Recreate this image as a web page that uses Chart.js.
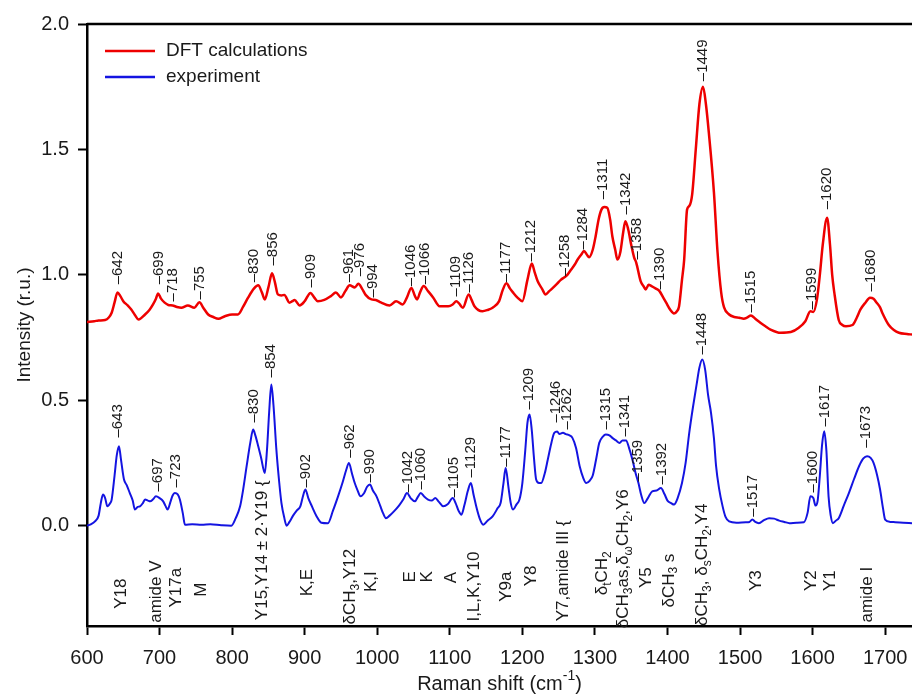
<!DOCTYPE html>
<html>
<head>
<meta charset="utf-8">
<script src="https://cdn.jsdelivr.net/npm/chart.js@4/dist/chart.umd.min.js"></script>
<style>
  html, body { margin: 0; padding: 0; background: #fff; }
  #wrap { width: 912px; height: 695px; }
</style>
</head>
<body>
<div id="wrap"><canvas id="chart" width="912" height="695"></canvas></div>
<script>
// DFT calculated spectrum (red)
const dftX = [600, 610, 616, 625, 630, 634, 638, 642, 646, 650, 656, 661, 666, 671, 680, 686, 691, 695, 698, 702,
  707, 712, 718, 724, 730, 739, 748, 755, 760, 767, 774, 781, 790, 800, 808, 815, 822, 830, 836, 841,
  845, 850, 855, 859, 863, 868, 872, 879, 883, 886, 893, 900, 908, 913, 918, 927, 936, 943, 950, 956,
  962, 969, 974, 979, 984, 992, 998, 1005, 1017, 1026, 1035, 1041, 1047, 1052, 1055, 1059, 1064, 1070, 1077, 1086,
  1098, 1104, 1109, 1113, 1118, 1126, 1130, 1134, 1145, 1152, 1159, 1168, 1173, 1178, 1183, 1187, 1193, 1200, 1207, 1213,
  1217, 1221, 1227, 1232, 1237, 1242, 1248, 1253, 1258, 1262, 1267, 1272, 1276, 1281, 1285, 1289, 1292, 1297, 1301, 1305,
  1309, 1313, 1317, 1321, 1324, 1328, 1331, 1335, 1339, 1342, 1346, 1350, 1354, 1357, 1363, 1367, 1370, 1374, 1378, 1384,
  1389, 1394, 1398, 1404, 1409, 1413, 1416, 1420, 1423, 1427, 1430, 1434, 1439, 1444, 1449, 1453, 1457, 1464, 1469, 1474,
  1478, 1485, 1492, 1499, 1505, 1510, 1515, 1521, 1528, 1535, 1542, 1556, 1570, 1581, 1590, 1597, 1601, 1606, 1610, 1614,
  1620, 1624, 1627, 1630, 1636, 1641, 1646, 1655, 1661, 1666, 1673, 1679, 1684, 1688, 1693, 1696, 1705, 1712, 1719, 1730, 1737];
const dftY = [0.812, 0.815, 0.818, 0.82, 0.83, 0.849, 0.89, 0.93, 0.915, 0.895, 0.878, 0.862, 0.84, 0.822, 0.842, 0.86, 0.882, 0.905, 0.926, 0.905,
  0.889, 0.88, 0.878, 0.872, 0.869, 0.878, 0.869, 0.891, 0.87, 0.842, 0.832, 0.825, 0.835, 0.842, 0.842, 0.872, 0.909, 0.945, 0.958, 0.93,
  0.902, 0.95, 1.006, 0.97, 0.922, 0.918, 0.92, 0.889, 0.895, 0.9, 0.878, 0.895, 0.928, 0.91, 0.895, 0.9, 0.915, 0.93, 0.91, 0.935,
  0.958, 0.95, 0.964, 0.945, 0.92, 0.902, 0.9, 0.89, 0.878, 0.895, 0.882, 0.91, 0.948, 0.915, 0.902, 0.93, 0.955, 0.935, 0.91, 0.875,
  0.875, 0.882, 0.895, 0.885, 0.869, 0.922, 0.9, 0.875, 0.855, 0.86, 0.869, 0.895, 0.94, 0.966, 0.945, 0.93, 0.91, 0.895, 0.98, 1.045,
  1.01, 0.975, 0.945, 0.922, 0.935, 0.948, 0.965, 0.98, 0.99, 1.0, 1.02, 1.04, 1.06, 1.08, 1.095, 1.08, 1.07, 1.1, 1.154, 1.22,
  1.26, 1.27, 1.267, 1.22, 1.154, 1.1, 1.061, 1.09, 1.17, 1.214, 1.18, 1.12, 1.07, 1.048, 0.975, 0.955, 0.942, 0.96, 0.955, 0.945,
  0.935, 0.91, 0.89, 0.86, 0.846, 0.855, 0.875, 0.98, 1.06, 1.26, 1.274, 1.32, 1.5, 1.68, 1.75, 1.68, 1.567, 1.33, 1.09, 0.93,
  0.87, 0.842, 0.832, 0.829, 0.825, 0.83, 0.838, 0.825, 0.809, 0.795, 0.782, 0.769, 0.772, 0.789, 0.815, 0.855, 0.852, 0.902, 1.0, 1.12,
  1.228, 1.12, 1.0, 0.928, 0.82, 0.8, 0.795, 0.8, 0.83, 0.862, 0.89, 0.909, 0.905, 0.89, 0.87, 0.849, 0.8, 0.78, 0.769, 0.764, 0.762];

// measured spectrum (blue)
const expX = [600, 605, 611, 616, 619, 622, 625, 628, 632, 634, 638, 641, 644, 647, 651, 655, 659, 663, 666, 670,
  673, 677, 680, 684, 687, 691, 695, 700, 705, 708, 711, 715, 718, 721, 725, 728, 732, 735, 745, 758,
  770, 785, 799, 805, 811, 815, 820, 825, 829, 832, 836, 840, 845, 848, 851, 854, 857, 861, 865, 868,
  872, 875, 879, 884, 889, 894, 897, 901, 905, 910, 916, 923, 932, 939, 946, 952, 957, 961, 965, 969,
  973, 977, 982, 986, 990, 994, 999, 1004, 1008, 1012, 1017, 1023, 1030, 1036, 1041, 1046, 1052, 1056, 1060, 1065,
  1070, 1075, 1080, 1085, 1091, 1097, 1104, 1108, 1112, 1116, 1120, 1125, 1129, 1133, 1137, 1141, 1146, 1152, 1159, 1166,
  1170, 1174, 1177, 1181, 1184, 1187, 1192, 1196, 1200, 1204, 1207, 1210, 1213, 1216, 1219, 1223, 1226, 1231, 1235, 1240,
  1244, 1248, 1251, 1256, 1260, 1265, 1269, 1274, 1279, 1284, 1288, 1293, 1297, 1302, 1306, 1311, 1315, 1320, 1324, 1329,
  1334, 1338, 1343, 1347, 1352, 1356, 1360, 1364, 1368, 1373, 1379, 1385, 1391, 1396, 1400, 1405, 1409, 1414, 1420, 1425,
  1430, 1435, 1440, 1444, 1448, 1452, 1456, 1460, 1464, 1467, 1471, 1476, 1480, 1485, 1495, 1508, 1513, 1517, 1521, 1526,
  1533, 1540, 1547, 1554, 1561, 1568, 1578, 1588, 1593, 1597, 1601, 1604, 1607, 1610, 1613, 1616, 1619, 1622, 1625, 1628,
  1632, 1636, 1643, 1650, 1657, 1664, 1670, 1675, 1680, 1684, 1689, 1693, 1697, 1700, 1707, 1714, 1725, 1737];
const expY = [0.0, 0.005, 0.017, 0.04, 0.09, 0.124, 0.11, 0.077, 0.09, 0.104, 0.2, 0.28, 0.317, 0.26, 0.184, 0.16, 0.13, 0.1, 0.064, 0.075,
  0.077, 0.09, 0.104, 0.1, 0.097, 0.105, 0.117, 0.11, 0.097, 0.08, 0.064, 0.095, 0.12, 0.13, 0.125, 0.104, 0.05, 0.004, 0.006, 0.004,
  0.006, 0.002, 0.0, 0.03, 0.077, 0.14, 0.237, 0.33, 0.383, 0.36, 0.317, 0.27, 0.21, 0.3, 0.45, 0.563, 0.48, 0.303, 0.17, 0.09,
  0.03, 0.0, 0.015, 0.04, 0.06, 0.077, 0.11, 0.144, 0.11, 0.077, 0.04, 0.012, 0.01, 0.06, 0.117, 0.17, 0.22, 0.25, 0.21, 0.17,
  0.14, 0.117, 0.13, 0.155, 0.164, 0.14, 0.117, 0.08, 0.05, 0.03, 0.04, 0.057, 0.08, 0.105, 0.13, 0.11, 0.097, 0.115, 0.13, 0.115,
  0.104, 0.1, 0.11, 0.095, 0.077, 0.085, 0.11, 0.09, 0.06, 0.044, 0.08, 0.14, 0.17, 0.12, 0.07, 0.03, 0.004, 0.02, 0.037, 0.07,
  0.09, 0.17, 0.23, 0.15, 0.09, 0.064, 0.085, 0.104, 0.17, 0.3, 0.41, 0.443, 0.38, 0.27, 0.184, 0.17, 0.17, 0.21, 0.263, 0.33,
  0.37, 0.375, 0.365, 0.37, 0.365, 0.36, 0.35, 0.31, 0.237, 0.19, 0.17, 0.18, 0.2, 0.27, 0.33, 0.355, 0.363, 0.36, 0.35, 0.34,
  0.33, 0.34, 0.34, 0.31, 0.26, 0.21, 0.17, 0.12, 0.09, 0.11, 0.137, 0.14, 0.15, 0.125, 0.1, 0.09, 0.084, 0.11, 0.17, 0.25,
  0.37, 0.47, 0.56, 0.63, 0.662, 0.62, 0.52, 0.45, 0.35, 0.237, 0.15, 0.077, 0.035, 0.017, 0.012, 0.014, 0.015, 0.025, 0.015, 0.01,
  0.022, 0.03, 0.028, 0.02, 0.015, 0.01, 0.012, 0.014, 0.05, 0.117, 0.11, 0.08, 0.1, 0.2, 0.32, 0.376, 0.3, 0.117, 0.04, 0.01,
  0.02, 0.03, 0.08, 0.13, 0.185, 0.237, 0.268, 0.277, 0.27, 0.25, 0.2, 0.144, 0.07, 0.024, 0.015, 0.014, 0.012, 0.01];

// peak positions and the intensity where each label starts
const dftPeaks = [642, 699, 718, 755, 830, 856, 909, 961, 976, 994, 1046, 1066, 1109, 1126, 1177, 1212, 1258, 1284,
  1311, 1342, 1358, 1390, 1449, 1515, 1599, 1620, 1680];
const dftPeakLevels = [0.962, 0.962, 0.894, 0.902, 0.97, 1.037, 0.95, 0.97, 0.994, 0.91, 0.954, 0.962, 0.914, 0.93, 0.97, 1.053, 0.994, 1.101,
  1.301, 1.241, 1.061, 0.942, 1.772, 0.85, 0.862, 1.261, 0.934];
const expPeaks = [643, 697, 723, 830, 854, 902, 962, 990, 1042, 1060, 1105, 1129, 1177, 1209, 1246, 1262, 1315, 1341,
  1359, 1392, 1448, 1517, 1600, 1617, 1673];
const expPeakLevels = [0.351, 0.136, 0.152, 0.411, 0.591, 0.152, 0.271, 0.172, 0.132, 0.144, 0.112, 0.192, 0.235, 0.463, 0.411, 0.383, 0.383, 0.355,
  0.176, 0.164, 0.682, 0.036, 0.132, 0.395, 0.311];

// band assignments ("_x" = subscript), their position and label centre
const bandNames = ["Y18", "amide V", "Y17a", "M", "Y15,Y14 \u00b1 2\u00b7Y19 {", "K,E", "\u03b4CH_3,Y12", "K,I", "E", "K", "A",
  "I,L,K,Y10", "Y9a", "Y8", "Y7,amide III {", "\u03b4_tCH_2", "\u03b4CH_3as,\u03b4_\u03c9CH_2,Y6", "Y5", "\u03b4CH_3 s",
  "\u03b4CH_3, \u03b4_sCH_2,Y4", "Y3", "Y2", "Y1", "amide I"];
const bandX = [647, 696, 723, 758, 841, 904, 963, 992, 1046, 1069, 1102, 1134, 1178, 1212, 1257, 1310, 1339, 1371, 1402,
  1448, 1522, 1598, 1625, 1675];
const bandLevels = [-0.271, -0.263, -0.247, -0.255, -0.098, -0.227, -0.243, -0.223, -0.204, -0.204, -0.207, -0.243, -0.243, -0.2,
  -0.18, -0.19, -0.132, -0.207, -0.219, -0.156, -0.219, -0.219, -0.219, -0.275];

const xTicks = [600, 700, 800, 900, 1000, 1100, 1200, 1300, 1400, 1500, 1600, 1700];
const yTicks = [0, 0.5, 1.0, 1.5, 2.0];

const FONT = '"Liberation Sans", Arial, Helvetica, sans-serif';
const RED = "rgb(238,0,0)";
const BLUE = "rgb(20,20,225)";
const INK = "#1a1a1a";

// "_x" / "_{..}" subscript, "^x" / "^{..}" superscript
function parseRich(text) {
  const segs = [];
  let buf = "";
  let i = 0;
  while (i < text.length) {
    const c = text[i];
    if ((c === "_" || c === "^") && i + 1 < text.length) {
      if (buf) {
        segs.push({ t: buf, s: 0 });
        buf = "";
      }
      let inner;
      if (text[i + 1] === "{") {
        const end = text.indexOf("}", i + 2);
        inner = text.slice(i + 2, end);
        i = end + 1;
      } else {
        inner = text[i + 1];
        i += 2;
      }
      segs.push({ t: inner, s: c === "_" ? 1 : -1 });
      continue;
    }
    buf += c;
    i++;
  }
  if (buf) {
    segs.push({ t: buf, s: 0 });
  }
  return segs;
}

function drawRich(ctx, text, size, align) {
  const segs = parseRich(text);
  const small = Math.round(size * 0.68);
  let width = 0;
  for (const sg of segs) {
    ctx.font = `${sg.s ? small : size}px ${FONT}`;
    sg.w = ctx.measureText(sg.t).width;
    width += sg.w;
  }
  let x = align === "center" ? -width / 2 : 0;
  ctx.textAlign = "left";
  ctx.textBaseline = "middle";
  for (const sg of segs) {
    ctx.font = `${sg.s ? small : size}px ${FONT}`;
    const dy = sg.s === 1 ? size * 0.3 : sg.s === -1 ? -size * 0.4 : 0;
    ctx.fillText(sg.t, x, dy);
    x += sg.w;
  }
}

const annotations = {
  id: "annotations",
  afterDatasetsDraw(chart) {
    const { ctx, chartArea } = chart;
    const xs = chart.scales.x;
    const ys = chart.scales.y;
    ctx.save();

    // top frame line
    ctx.strokeStyle = "#000";
    ctx.lineWidth = 2.5;
    ctx.beginPath();
    ctx.moveTo(chartArea.left, chartArea.top);
    ctx.lineTo(chartArea.right, chartArea.top);
    ctx.stroke();

    // legend
    const legend = [["DFT calculations", RED], ["experiment", BLUE]];
    legend.forEach(([label, color], i) => {
      const ly = chartArea.top + 27 + i * 26;
      ctx.strokeStyle = color;
      ctx.lineWidth = 2.5;
      ctx.beginPath();
      ctx.moveTo(chartArea.left + 18, ly);
      ctx.lineTo(chartArea.left + 68, ly);
      ctx.stroke();
      ctx.fillStyle = INK;
      ctx.font = `19px ${FONT}`;
      ctx.textAlign = "left";
      ctx.textBaseline = "middle";
      ctx.fillText(label, chartArea.left + 79, ly);
    });

    ctx.fillStyle = INK;
    const peakLabels = (peaks, levels) => {
      peaks.forEach((v, i) => {
        ctx.save();
        ctx.translate(xs.getPixelForValue(v), ys.getPixelForValue(levels[i]));
        ctx.rotate(-Math.PI / 2);
        ctx.font = `15px ${FONT}`;
        ctx.textAlign = "left";
        ctx.textBaseline = "middle";
        ctx.fillText("\u2013" + v, 0, 0);
        ctx.restore();
      });
    };
    peakLabels(dftPeaks, dftPeakLevels);
    peakLabels(expPeaks, expPeakLevels);

    bandNames.forEach((name, i) => {
      ctx.save();
      ctx.translate(xs.getPixelForValue(bandX[i]), ys.getPixelForValue(bandLevels[i]));
      ctx.rotate(-Math.PI / 2);
      drawRich(ctx, name, 17, "center");
      ctx.restore();
    });

    // axis titles
    ctx.save();
    ctx.translate((chartArea.left + chartArea.right) / 2, chartArea.bottom + 58);
    drawRich(ctx, "Raman shift (cm^{-1})", 20, "center");
    ctx.restore();

    ctx.save();
    ctx.translate(25, (chartArea.top + chartArea.bottom) / 2);
    ctx.rotate(-Math.PI / 2);
    drawRich(ctx, "Intensity (r.u.)", 19, "center");
    ctx.restore();

    ctx.restore();
  },
};

const toPoints = (xs, ys) => xs.map((x, i) => ({ x, y: ys[i] }));

new Chart(document.getElementById("chart"), {
  type: "line",
  data: {
    datasets: [
      {
        label: "DFT calculations",
        data: toPoints(dftX, dftY),
        borderColor: RED,
        borderWidth: 2.5,
        pointRadius: 0,
        cubicInterpolationMode: "monotone",
      },
      {
        label: "experiment",
        data: toPoints(expX, expY),
        borderColor: BLUE,
        borderWidth: 2,
        pointRadius: 0,
        cubicInterpolationMode: "monotone",
      },
    ],
  },
  options: {
    responsive: false,
    animation: false,
    devicePixelRatio: 1,
    layout: { padding: { top: 24, left: 0, right: 0, bottom: 0 } },
    plugins: {
      legend: { display: false },
      tooltip: { enabled: false },
    },
    scales: {
      x: {
        type: "linear",
        min: 600,
        max: 1737,
        afterBuildTicks: (scale) => {
          scale.ticks = xTicks.map((value) => ({ value }));
        },
        afterFit: (scale) => {
          // keep the plot running to the right edge, like the figure
          scale.height = 69;
          scale.paddingLeft = 0;
          scale.paddingRight = 0;
        },
        grid: {
          drawOnChartArea: false,
          drawTicks: true,
          tickLength: 9,
          tickWidth: 2,
          tickColor: "#000",
        },
        border: { display: true, color: "#000", width: 2.5 },
        ticks: {
          padding: 11,
          color: INK,
          font: { family: FONT, size: 20 },
          maxRotation: 0,
          callback: (v) => v,
        },
      },
      y: {
        type: "linear",
        min: -0.4,
        max: 2.0,
        afterBuildTicks: (scale) => {
          scale.ticks = yTicks.map((value) => ({ value }));
        },
        afterFit: (scale) => {
          scale.width = 87;
          scale.paddingTop = 0;
          scale.paddingBottom = 0;
        },
        grid: {
          drawOnChartArea: false,
          drawTicks: true,
          tickLength: 9,
          tickWidth: 2,
          tickColor: "#000",
        },
        border: { display: true, color: "#000", width: 2.5 },
        ticks: {
          padding: 9,
          color: INK,
          font: { family: FONT, size: 20 },
          callback: (v) => v.toFixed(1),
        },
      },
    },
  },
  plugins: [annotations],
});
</script>
</body>
</html>
